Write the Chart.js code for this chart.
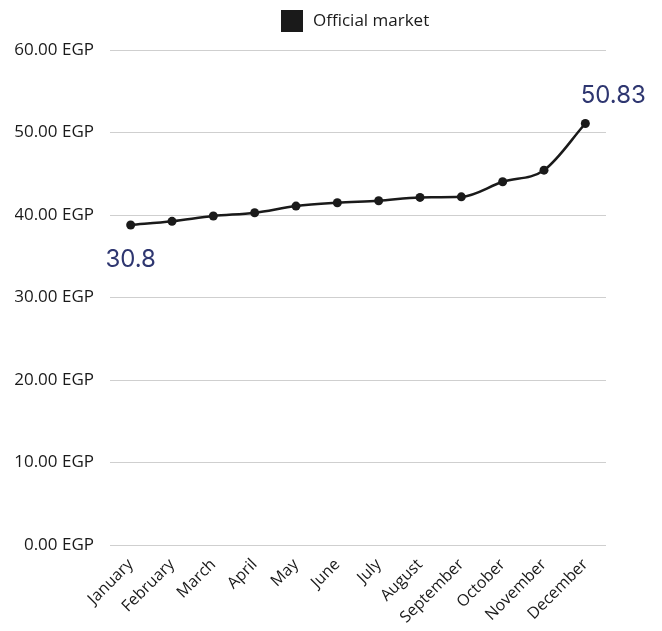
<!DOCTYPE html>
<html>
<head>
<meta charset="utf-8">
<script src="https://cdn.jsdelivr.net/npm/chart.js@4"></script>
<style>
html,body{margin:0;padding:0;background:#fff;}
#wrap{width:662px;height:631px;position:relative;}
</style>
</head>
<body>
<div id="wrap"><canvas id="c" width="662" height="631"></canvas></div>
<script>
const months = ["January","February","March","April","May","June","July","August","September","October","November","December"];
const officialMarket = [38.79, 39.24, 39.88, 40.28, 41.09, 41.49, 41.73, 42.14, 42.21, 44.03, 45.44, 51.09];
const seriesName = "Official market";
const startLabel = "30.8";
const endLabel = "50.83";
const yTicks = [0, 10, 20, 30, 40, 50, 60];

const FONT = '"Open Sans", sans-serif';

const annot = {
  id: 'annot',
  afterDatasetsDraw(chart) {
    const pts = chart.getDatasetMeta(0).data;
    const ctx = chart.ctx;
    ctx.save();
    ctx.font = '24px Inter, "Open Sans", sans-serif';
    ctx.fillStyle = '#2e3670';
    ctx.textAlign = 'center';
    ctx.textBaseline = 'middle';
    const a = pts[0];
    ctx.fillText(startLabel, a.x, a.y + 35);
    const b = pts[pts.length - 1];
    ctx.fillText(endLabel, b.x + 28, b.y - 28);
    ctx.restore();
  },
  afterDraw(chart) {
    const ds = chart.data.datasets[0];
    const ctx = chart.ctx;
    ctx.save();
    ctx.fillStyle = ds.backgroundColor;
    ctx.fillRect(281, 10, 22, 22);
    ctx.font = '17px ' + FONT;
    ctx.fillStyle = '#1a1a1a';
    ctx.textAlign = 'left';
    ctx.textBaseline = 'middle';
    ctx.fillText(ds.label, 313, 21.5);
    ctx.restore();
  }
};

new Chart(document.getElementById('c'), {
  type: 'line',
  data: {
    labels: months,
    datasets: [{
      label: seriesName,
      data: officialMarket,
      borderColor: '#1a1a1a',
      backgroundColor: '#1a1a1a',
      borderWidth: 2.5,
      pointRadius: 4.5,
      pointBackgroundColor: '#1a1a1a',
      pointBorderWidth: 0,
      tension: 0.4,
      cubicInterpolationMode: 'monotone'
    }]
  },
  options: {
    responsive: false,
    animation: false,
    layout: { padding: { left: 15, right: 56, top: 50, bottom: 2 } },
    plugins: {
      legend: { display: false },
      tooltip: { enabled: false }
    },
    scales: {
      x: {
        offset: true,
        grid: { display: false },
        border: { display: false },
        afterFit(s) { s.paddingLeft = 0; s.paddingRight = 0; },
        ticks: {
          maxRotation: 45, minRotation: 45, autoSkip: false,
          padding: 2,
          color: '#1a1a1a',
          font: { family: FONT, size: 16 }
        }
      },
      y: {
        min: 0, max: 60,
        afterBuildTicks(axis) { axis.ticks = yTicks.map(v => ({ value: v })); },
        afterFit(axis) { axis.width = 95; },
        grid: { color: '#cfcfcf', drawTicks: false, lineWidth: 1 },
        border: { display: false },
        ticks: {
          padding: 16,
          color: '#1a1a1a',
          font: { family: FONT, size: 17 },
          callback: v => Number(v).toFixed(2) + ' EGP'
        }
      }
    }
  },
  plugins: [annot]
});
</script>
</body>
</html>
